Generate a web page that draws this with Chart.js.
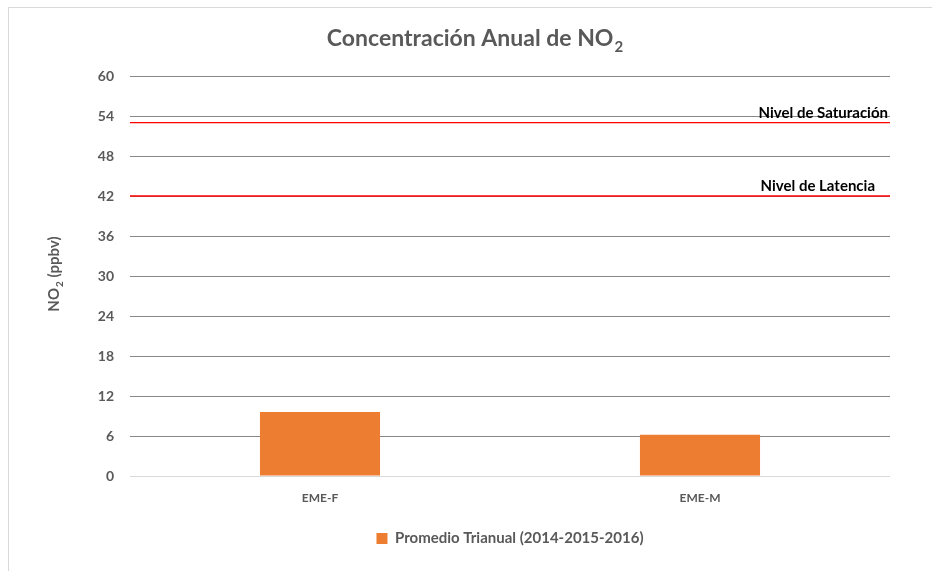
<!DOCTYPE html>
<html>
<head>
<meta charset="utf-8">
<script src="https://cdn.jsdelivr.net/npm/chart.js@4"></script>
<style>
  html, body { margin: 0; padding: 0; background: #fff; }
  #wrap { position: relative; width: 932px; height: 571px; overflow: hidden; }
  #frame { position: absolute; left: 8px; top: 7px; width: 940px; height: 580px;
           border-left: 1px solid #d9d9d9; border-top: 1px solid #d9d9d9; }
  canvas { position: absolute; left: 0; top: 0; }
</style>
</head>
<body>
<div id="wrap">
  <div id="frame"></div>
  <canvas id="chart" width="932" height="571"></canvas>
</div>
<script>
// Annual NO2 concentration, bar chart with threshold lines

const categories = ['EME-F', 'EME-M']
const seriesLabel = 'Promedio Trianual (2014-2015-2016)'
const seriesValues = [9.6, 6.2]
const yTicks = [0, 6, 12, 18, 24, 30, 36, 42, 48, 54, 60]
const thresholdNames = ['Nivel de Saturación', 'Nivel de Latencia']
const thresholdValues = [53, 42]

const FONT = 'Lato, "Open Sans", sans-serif'
const GREY = '#595959'

// text with a subscript "2" drawn smaller and lower, optional tail after it
function subWidth(c, main, sub, tail, size) {
  c.font = `bold ${size}px ${FONT}`
  const w1 = c.measureText(main).width + c.measureText(tail).width
  c.font = `bold ${Math.round(size * 0.65)}px ${FONT}`
  return w1 + c.measureText(sub).width + 1
}

function drawSub(c, main, sub, tail, x0, y, size) {
  c.textAlign = 'left'
  c.font = `bold ${size}px ${FONT}`
  const w1 = c.measureText(main).width
  c.fillText(main, x0, y)
  c.font = `bold ${Math.round(size * 0.65)}px ${FONT}`
  const w2 = c.measureText(sub).width
  c.fillText(sub, x0 + w1 + 1, y + size * 0.28)
  c.font = `bold ${size}px ${FONT}`
  c.fillText(tail, x0 + w1 + w2 + 1, y)
}

const decor = {
  id: 'decor',
  afterDatasetsDraw(chart) {
    const { ctx: c, chartArea: a, scales } = chart
    const y = scales.y
    c.save()
    // threshold lines
    thresholdValues.forEach((v) => {
      const py = y.getPixelForValue(v)
      c.strokeStyle = '#ff0000'
      c.lineWidth = 1.3
      c.beginPath()
      c.moveTo(a.left, py)
      c.lineTo(a.right, py)
      c.stroke()
    })
    c.fillStyle = '#000'
    c.textBaseline = 'alphabetic'
    c.font = `bold 15px ${FONT}`
    c.textAlign = 'right'
    c.fillText(thresholdNames[0], a.right - 2, y.getPixelForValue(thresholdValues[0]) - 5)
    c.fillText(thresholdNames[1], a.right - 15, y.getPixelForValue(thresholdValues[1]) - 5)

    // title
    c.fillStyle = GREY
    const tw = subWidth(c, 'Concentración Anual de NO', '2', '', 23)
    drawSub(c, 'Concentración Anual de NO', '2', '', 475 - tw / 2, 46, 23)

    // y axis title
    c.translate(59, (a.top + a.bottom) / 2)
    c.rotate(-Math.PI / 2)
    const yw = subWidth(c, 'NO', '2', ' (ppbv)', 15)
    drawSub(c, 'NO', '2', ' (ppbv)', -yw / 2 + 2, 0, 15)
    c.restore()
  }
}

new Chart(document.getElementById('chart'), {
  type: 'bar',
  data: {
    labels: categories,
    datasets: [{
      label: seriesLabel,
      data: seriesValues,
      backgroundColor: '#ed7d31',
      borderWidth: 0,
      barPercentage: 0.316,
      categoryPercentage: 1,
    }]
  },
  options: {
    responsive: false,
    animation: false,
    layout: { padding: { left: 0, right: 42, top: 76, bottom: 15 } },
    scales: {
      x: {
        grid: { display: false },
        border: { display: false },
        ticks: { color: GREY, font: { family: FONT, size: 12, weight: 'bold' }, padding: 7 },
        afterFit: (s) => { s.height = 45 }
      },
      y: {
        min: 0,
        max: 60,
        afterBuildTicks: (s) => { s.ticks = yTicks.map(v => ({ value: v })) },
        grid: {
          drawTicks: false,
          color: (ctx) => ctx.tick && ctx.tick.value === 0 ? '#d9d9d9' : '#888888',
          lineWidth: 1,
        },
        border: { display: false },
        ticks: { color: GREY, font: { family: FONT, size: 14, weight: 'bold' }, padding: 16 },
        afterFit: (s) => { s.width = 130 }
      }
    },
    plugins: {
      title: { display: false },
      tooltip: { enabled: false },
      legend: {
        position: 'bottom',
        fullSize: false,
        labels: {
          color: GREY,
          boxWidth: 11,
          boxHeight: 11,
          padding: 10,
          font: { family: FONT, size: 15, weight: 'bold' },
        }
      }
    }
  },
  plugins: [decor]
})
</script>
</body>
</html>
